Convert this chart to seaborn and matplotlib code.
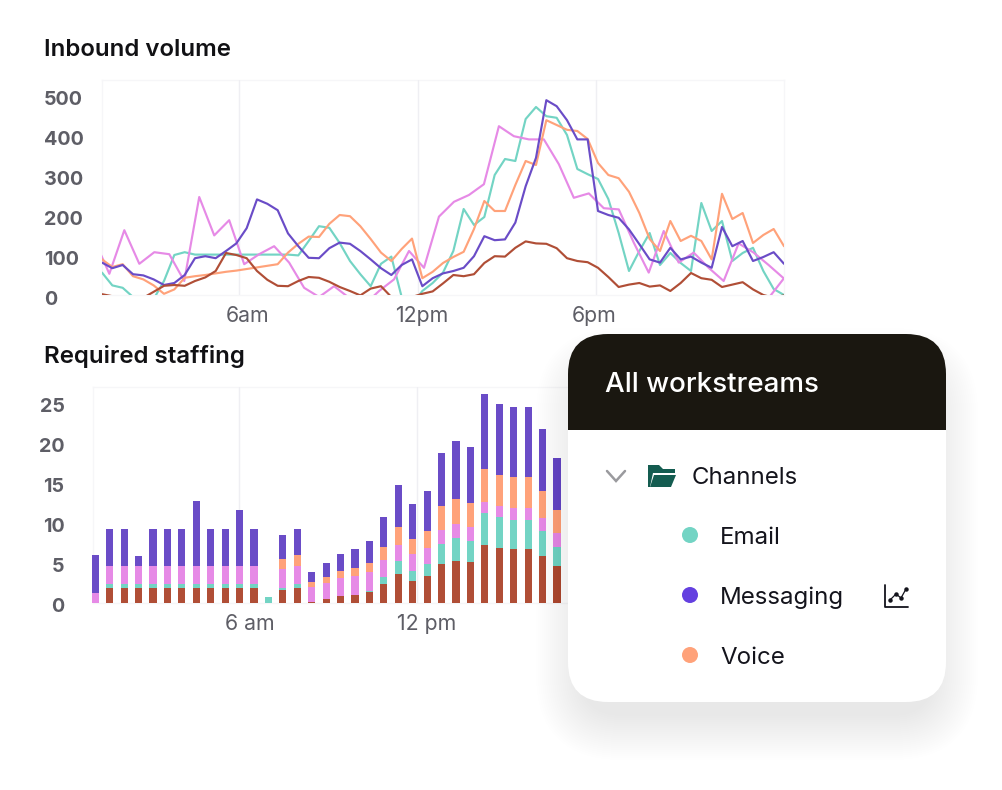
import numpy as np
import pandas as pd
import matplotlib
matplotlib.use("Agg")
import matplotlib.pyplot as plt
import seaborn as sns
from matplotlib.patches import FancyBboxPatch, Rectangle, Circle, Polygon
from matplotlib.transforms import ScaledTranslation

sns.set_style("white")
plt.rcParams["font.family"] = ["Inter", "DejaVu Sans"]

W, H = 1002, 790

# ---------------------------
# Data
# ---------------------------
email = [56, 24, 18, -5, -30, -10, 35, 100, 107, 101, 101, 101, 101, 101, 101, 101, 101, 101, 101, 99,
         135, 172, 168, 130, 85, 52, 22, 78, 96, -5, -25, 10, 30, 56, 110, 215, 175, 195, 300, 340,
         335, 440, 470, 447, 443, 400, 315, 302, 290, 240, 155, 60, 110, 155, 75, 105, 80, 60, 230, 160,
         185, 85, 105, 118, 60, 15, 0]
messaging = [81, 67, 75, 52, 49, 39, 25, 30, 50, 92, 97, 92, 110, 129, 167, 239, 228, 212, 154, 122,
             93, 92, 117, 131, 128, 110, 89, 67, 50, 75, 89, 22, 42, 54, 60, 68, 97, 147, 137, 139,
             181, 272, 343, 487, 472, 437, 389, 389, 210, 200, 193, 164, 127, 89, 81, 118, 89, 96, 81, 68,
             170, 122, 135, 85, 95, 107, 78]
voice = [89, 70, 77, 47, 39, 24, 3, 14, 43, 47, 50, 54, 58, 61, 65, 69, 73, 77, 106, 128,
         146, 145, 178, 200, 197, 172, 140, 106, 85, 115, 141, 42, 58, 80, 95, 108, 165, 235, 210, 210,
         275, 335, 325, 437, 425, 413, 410, 390, 330, 300, 292, 258, 205, 140, 110, 185, 135, 148, 135, 89,
         253, 190, 205, 130, 150, 165, 122]
chat = [138, 53, 162, 78, 107, 102, 35, 245, 149, 187, 77, 102, 122, 81, 18, -5, 22, -7, -25, 10,
        39, 110, 68, 196, 233, 250, 277, 422, 397, 389, 389, 327, 243, 254, 217, 214, 131, 56, 160, 81,
        106, 68, 35, 129, 106, 75, 42]
chat_tail = [-8, 42]
social = [2, -3, -8, -10, -7, 8, 23, 25, 23, 35, 44, 60, 105, 100, 92, 60, 38, 23, 22, 35,
          45, 43, 33, 20, 10, -1, 16, 22, -5, -15, -5, 3, 9, 29, 50, 47, 52, 80, 97, 96,
          118, 134, 129, 128, 117, 92, 85, 82, 68, 45, 20, 26, 30, 21, 24, 10, 30, 55, 42, 38,
          20, 26, 32, 14, 0, -7, -1]

staff_social = [0, 1.9, 1.9, 1.9, 1.9, 1.9, 1.9, 1.9, 1.9, 1.9, 1.9, 1.9, 0, 1.6, 1.9, 0.12, 0.45, 0.85, 1.05,
                1.35, 2.4, 3.6, 2.8, 3.4, 4.9, 5.3, 5.15, 7.2, 6.85, 6.7, 6.7, 5.85, 4.65]
staff_email = [0, 0.5, 0.5, 0.5, 0.5, 0.5, 0.5, 0.5, 0.5, 0.5, 0.5, 0.5, 0.7, 0.3, 0.5, 0, 0, 0, 0,
               0.15, 0.85, 1.7, 1.15, 1.5, 2.5, 2.85, 2.65, 4.05, 3.85, 3.7, 3.7, 3.1, 2.4]
staff_chat = [1.3, 2.2, 2.2, 2.2, 2.2, 2.2, 2.2, 2.2, 2.2, 2.2, 2.2, 2.2, 0, 2.3, 2.2, 1.9, 2.1, 2.3, 2.35,
              2.4, 2.1, 1.9, 2.15, 2.0, 1.75, 1.7, 1.65, 1.4, 1.4, 1.45, 1.45, 1.65, 1.75]
staff_voice = [0, 0, 0, 0, 0, 0, 0, 0, 0, 0, 0, 0, 0, 1.25, 1.4, 0.6, 0.65, 0.9, 1.0,
               1.1, 1.65, 2.35, 1.85, 2.15, 2.95, 3.1, 3.1, 4.05, 3.9, 3.85, 3.85, 3.35, 2.8]
staff_messaging = [4.7, 4.7, 4.7, 1.3, 4.7, 4.7, 4.7, 8.1, 4.7, 4.7, 7.0, 4.7, 0, 3.0, 3.3, 1.2, 1.75, 2.1, 2.35,
                   2.7, 3.8, 5.2, 4.4, 5.0, 6.7, 7.35, 7.0, 9.4, 8.9, 8.75, 8.75, 7.8, 6.55]

volume_ticks = [0, 100, 200, 300, 400, 500]
staff_ticks = [0, 5, 10, 15, 20, 25]
volume_hours = ["6am", "12pm", "6pm"]
staff_hours = ["6 am", "12 pm"]
channels = ["Email", "Messaging", "Voice"]

colors = {"email": "#73d4c4", "messaging": "#6a4cc7", "voice": "#ffa27a",
          "chat": "#e68ae6", "chat_tail": "#e68ae6", "social": "#b04e36"}
TICK_GRAY = "#5e5e66"
GRID = "#efeff3"

# ---------------------------
# Long tables for seaborn
# ---------------------------
rows = []
for name, vals in [("email", email), ("chat", chat), ("chat_tail", chat_tail), ("voice", voice),
                   ("messaging", messaging), ("social", social)]:
    if name == "chat":
        slots = -0.74 + 1.45 * np.arange(len(vals))
    elif name == "chat_tail":
        slots = 64.5 + 1.5 * np.arange(len(vals))
    else:
        slots = np.arange(len(vals))
    rows.append(pd.DataFrame({"slot": slots, "value": vals, "channel": name}))
volume = pd.concat(rows, ignore_index=True)

staffing = pd.concat([
    pd.DataFrame({"slot": np.arange(len(v)), "value": v, "channel": n})
    for n, v in [("messaging", staff_messaging), ("voice", staff_voice), ("chat", staff_chat),
                 ("email", staff_email), ("social", staff_social)]
], ignore_index=True)

# ---------------------------
# Figure and layers
# ---------------------------
fig = plt.figure(figsize=(W / 100, H / 100), dpi=100, facecolor="white")


def pixel_axes(z):
    a = fig.add_axes([0, 0, 1, 1], zorder=z)
    a.set_xlim(0, W)
    a.set_ylim(H, 0)
    a.axis("off")
    a.patch.set_alpha(0)
    return a


def chart_axes(left, top, right, bottom):
    return fig.add_axes([left / W, 1 - bottom / H, (right - left) / W, (bottom - top) / H], zorder=1)


def rounded(a, x0, y0, x1, y1, r, **kw):
    p = FancyBboxPatch((x0 + r, y0 + r), x1 - x0 - 2 * r, y1 - y0 - 2 * r,
                       boxstyle=f"round,pad={r},rounding_size={r}", linewidth=0, **kw)
    a.add_patch(p)
    return p


def shadow(a, x0, y0, x1, y1, r, inset, spread, dy, alpha):
    for k in range(spread, 0, -2):
        rounded(a, x0 + inset - k, y0 + inset - k + dy, x1 - inset + k, y1 - inset + k + dy, r + k,
                facecolor="black", alpha=alpha)


bg = pixel_axes(0)
shadow(bg, 24, 15, 804, 645, 4, 6, 26, 8, 0.0016)
rounded(bg, 24, 15, 804, 645, 4, facecolor="white")

fg = pixel_axes(2)
shadow(fg, 568, 334, 946, 702, 40, 14, 46, 26, 0.0036)
rounded(fg, 568, 334, 946, 702, 40, facecolor="white")
header = rounded(fg, 568, 334, 946, 702, 40, facecolor="#1a1710")
header.set_clip_path(Rectangle((568, 334), 378, 96, transform=fg.transData))


def shift_labels(labels, offsets):
    for lab, (dx, dy) in zip(labels, offsets):
        lab.set_transform(lab.get_transform() + ScaledTranslation(dx / 100, dy / 100, fig.dpi_scale_trans))


def style_axes(a, grid_at, tick_names):
    a.set_facecolor("none")
    a.set_xlabel("")
    a.set_ylabel("")
    for s in a.spines.values():
        s.set_color("#f6f6f8")
        s.set_linewidth(1)
        s.set_zorder(0.5)
    a.set_xticks(grid_at)
    a.set_xticklabels(tick_names)
    a.grid(axis="x", color=GRID, linewidth=1)
    a.grid(axis="y", visible=False)
    a.set_axisbelow(True)
    a.tick_params(axis="both", length=0)
    for lab in a.get_xticklabels():
        lab.set_color(TICK_GRAY)
        lab.set_fontsize(15.3)


# ---------------------------
# Inbound volume
# ---------------------------
ax1 = chart_axes(102, 80, 784, 295)
sns.lineplot(data=volume, x="slot", y="value", hue="channel", palette=colors,
             hue_order=["email", "chat", "chat_tail", "voice", "messaging", "social"],
             errorbar=None, legend=False, linewidth=1.55, ax=ax1)
ax1.set_xlim(0, 66)
ax1.set_ylim(0, 537.5)
style_axes(ax1, [13.26, 30.54, 47.77], volume_hours)
ax1.set_yticks(volume_ticks)
ax1.set_yticklabels(volume_ticks, ha="left", color=TICK_GRAY, fontsize=14.2, fontweight="bold")
ax1.tick_params(axis="y", pad=41.8)
ax1.tick_params(axis="x", pad=8)
shift_labels(ax1.get_yticklabels(), [(0, -3)] * 6)
shift_labels(ax1.get_xticklabels(), [(9, 0), (4, 0), (-1, 0)])

# ---------------------------
# Required staffing
# ---------------------------
ax2 = chart_axes(93, 387, 784, 603)
sns.histplot(data=staffing, x="slot", weights="value", hue="channel", palette=colors,
             hue_order=["messaging", "voice", "chat", "email", "social"],
             multiple="stack", discrete=True, shrink=0.5, alpha=1, linewidth=0, legend=False, ax=ax2)
ax2.set_xlim(-0.16, 47.73)
ax2.set_ylim(0, 27)
for bar in ax2.patches:
    bar.set_clip_on(False)
style_axes(ax2, [9.96, 22.3], staff_hours)
ax2.set_yticks(staff_ticks)
ax2.set_yticklabels(staff_ticks, color=TICK_GRAY, fontsize=14.2, fontweight="bold")
ax2.tick_params(axis="y", pad=20.5)
ax2.tick_params(axis="x", pad=8)
shift_labels(ax2.get_yticklabels(), [(0, -2)] * 6)
shift_labels(ax2.get_xticklabels(), [(11, 0), (10, 0)])

# ---------------------------
# Titles
# ---------------------------
for txt, y in [("Inbound volume", 50), ("Required staffing", 357)]:
    bg.text(44, y, txt, fontsize=17.3, fontweight="semibold", color="#111114", va="center", ha="left")

# ---------------------------
# Workstream card
# ---------------------------
fg.text(605, 384.5, "All workstreams", fontsize=20, fontweight="medium", color="white", va="center", ha="left")

fg.plot([607, 616, 625], [471, 481, 471], color="#9a9a9e", linewidth=1.8, solid_joinstyle="miter")
fg.add_patch(Polygon([(648, 487), (648, 465), (659, 465), (663, 469), (675, 469), (675, 473),
                      (653, 473), (650, 487)], closed=True, facecolor="#145c50", linewidth=0))
fg.add_patch(Polygon([(654, 475), (676, 475), (671, 487), (650, 487)], closed=True,
                     facecolor="#145c50", linewidth=0))
fg.text(692, 477.5, "Channels", fontsize=17.3, color="#14141c", va="center", ha="left")

dot_colors = ["#73d4c4", "#6440e0", "#ffa27a"]
for name, col, y in zip(channels, dot_colors, [535, 595, 655]):
    fg.add_patch(Circle((690, y), 8, facecolor=col, linewidth=0))
    fg.text(720, y + 2.5, name, fontsize=17.3, color="#14141c", va="center", ha="left")

fg.plot([885, 885, 908], [585, 607, 607], color="#14141c", linewidth=1.3)
fg.plot([890, 896, 901, 906], [600, 594, 598, 589], color="#14141c", linewidth=0.9,
        marker="o", markersize=2.2)

fig.savefig("out.png", dpi=100)
